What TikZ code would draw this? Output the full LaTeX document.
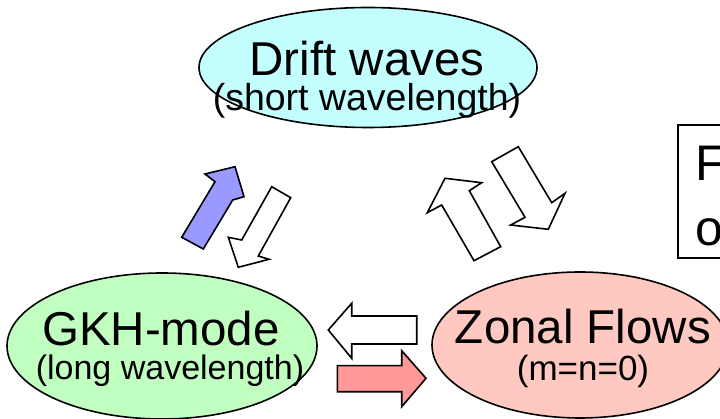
\documentclass[tikz,border=0pt]{standalone}
\usepackage{fontspec}
\setmainfont{Liberation Sans}
\usetikzlibrary{shapes.geometric}
\definecolor{cyanfill}{HTML}{C4FFFF}
\definecolor{greenfill}{HTML}{C0FFC0}
\definecolor{pinkfill}{HTML}{FFC8C0}
\definecolor{bluearrow}{HTML}{9999FF}
\definecolor{redarrow}{HTML}{FF9999}
\tikzset{
  bubble/.style={ellipse, draw=black, line width=1.6pt, inner sep=0pt},
  blockarrow/.style={draw=black, line width=1.6pt, line join=miter},
  bigtxt/.style={anchor=base, inner sep=0pt, font=\fontsize{47.5}{50}\selectfont},
  smalltxt/.style={anchor=base, inner sep=0pt},
}
\begin{document}
\begin{tikzpicture}[x=1pt,y=-1pt]
\useasboundingbox (0,0) rectangle (720,419);
\begin{scope}
\clip (0,0) rectangle (720,419);
% ellipses
\node[bubble, fill=cyanfill, minimum width=338pt, minimum height=120pt] (drift) at (368,67.5) {};
\node[bubble, fill=greenfill, minimum width=310pt, minimum height=146pt] (gkh) at (162,346) {};
\node[bubble, fill=pinkfill, minimum width=296pt, minimum height=146pt] (zonal) at (580,345) {};
% texts
\node[bigtxt] (driftA) at (367,76) {Drift waves};
\node[smalltxt, font=\fontsize{37.5}{40}\selectfont] (driftB) at (367,111) {(short wavelength)};
\node[bigtxt] (gkhA) at (161,346) {GKH-mode};
\node[smalltxt, font=\fontsize{34}{38}\selectfont] (gkhB) at (170,380) {(long wavelength)};
\node[bigtxt] (zonalA) at (583,344) {Zonal Flows};
\node[smalltxt, font=\fontsize{35}{38}\selectfont] (zonalB) at (583,381) {(m=n=0)};
% box on the right
\draw[line width=1.4pt] (678,125) rectangle (760,258);
\node[anchor=base west, inner sep=0pt, font=\fontsize{50}{54}\selectfont] (boxA) at (695,181) {F};
\node[anchor=base west, inner sep=0pt, font=\fontsize{50}{54}\selectfont] (boxB) at (695,246) {o};
% block arrows
\draw[blockarrow, fill=bluearrow] (181.7,237.3) -- (215,181.7) -- (205,174) -- (235,166.7) -- (244,196.7) -- (232.7,200) -- (203.3,249) -- cycle;
\draw[blockarrow, fill=white] (271.7,186.7) -- (290.7,197.7) -- (258.3,256) -- (269,259.3) -- (238.3,267.3) -- (228.3,237.3) -- (241.7,240) -- cycle;
\draw[blockarrow, fill=white] (474,260.7) -- (441.7,205) -- (427.3,212.7) -- (445,178.3) -- (481.7,182.7) -- (469.3,190.7) -- (500.7,246.7) -- cycle;
\draw[blockarrow, fill=white] (491.7,161.7) -- (518.3,146.7) -- (551.7,202.7) -- (565,193.3) -- (548.3,229.3) -- (510.7,225) -- (525,217.3) -- cycle;
\draw[blockarrow, fill=white] (328.3,330) -- (351.7,303.3) -- (351.7,316) -- (416.7,316) -- (416.7,344) -- (351.7,344) -- (351.7,358.3) -- cycle;
\draw[blockarrow, fill=redarrow] (337.3,365.7) -- (401.7,365.7) -- (401.7,350.7) -- (426,378.3) -- (401.7,406.7) -- (401.7,391.7) -- (337.3,391.7) -- cycle;
\end{scope}
\end{tikzpicture}
\end{document}
